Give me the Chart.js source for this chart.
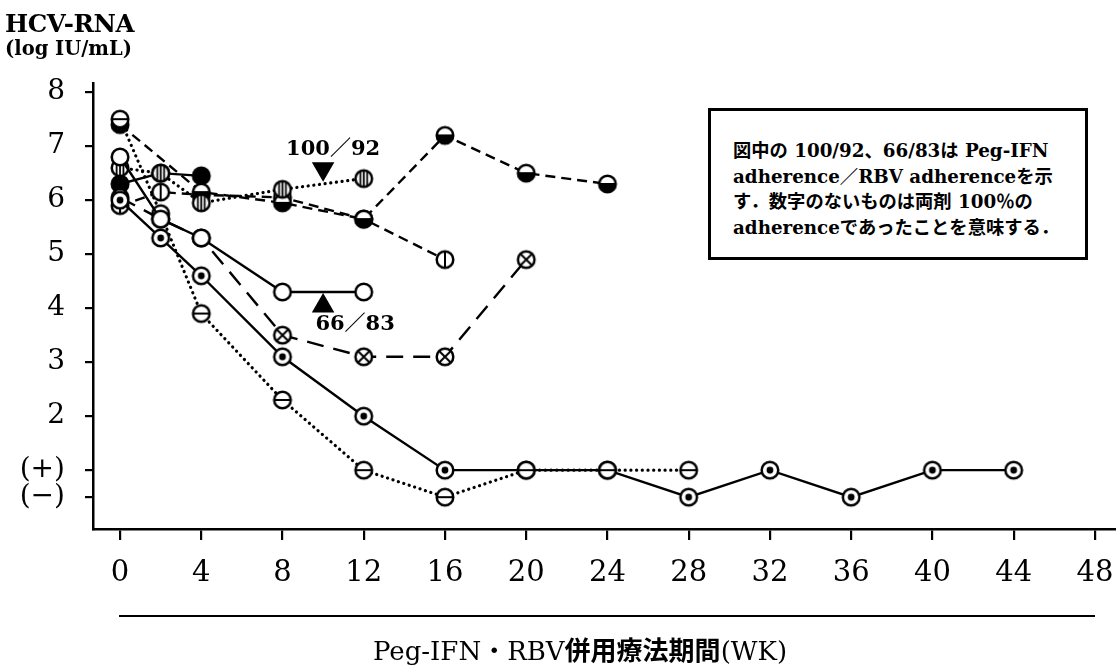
<!DOCTYPE html>
<html><head><meta charset="utf-8">
<script src="https://cdn.jsdelivr.net/npm/chart.js@4/dist/chart.umd.min.js"></script>
<style>
html,body{margin:0;padding:0;background:#fff;}
#wrap{position:relative;width:1116px;height:667px;overflow:hidden;}
#c{position:absolute;left:0;top:0;}
.serif{font-family:"DejaVu Serif","Noto Sans CJK JP",serif;color:#000;}
#ytitle{position:absolute;left:5px;top:10px;font-weight:bold;}
#ytitle .t1{font-size:24.5px;line-height:28px;letter-spacing:-0.4px;}
#ytitle .t2{font-size:19.5px;line-height:22px;}
#note{position:absolute;left:708px;top:108px;width:380px;height:152px;box-sizing:border-box;border:3px solid #000;background:#fff;
 padding:27px 0 0 22px;font-size:18.3px;font-weight:bold;line-height:25.7px;white-space:nowrap;}
#rule{position:absolute;left:119px;top:615px;width:976px;height:2px;background:#000;}
#xtitle{position:absolute;left:0;width:1160px;top:632px;text-align:center;font-size:26px;line-height:34px;white-space:nowrap;}
#xtitle b{font-family:"Noto Sans CJK JP",sans-serif;font-weight:bold;}
</style>
</head><body><div id="wrap">
<canvas id="c" width="1116" height="667"></canvas>
<div id="ytitle" class="serif"><div class="t1">HCV-RNA</div><div class="t2">(log IU/mL)</div></div>
<div id="note" class="serif">図中の 100/92、66/83は Peg-IFN<br>adherence／RBV adherenceを示<br>す．数字のないものは両剤 100％の<br>adherenceであったことを意味する．</div>
<div id="rule"></div>
<div id="xtitle" class="serif">Peg-IFN・RBV<b>併用療法期間</b>(WK)</div>
</div>
<script>
// ---- data ----
const xTickValues = [0,4,8,12,16,20,24,28,32,36,40,44,48];
const yTickValues = [0.5,1,2,3,4,5,6,7,8];
const yTickLabels = ['(−)','(+)','2','3','4','5','6','7','8'];

const wkOpen = [0,2,4,8,12];
const valOpen = [6.8,5.65,5.3,4.3,4.3];
const wkDot = [0,2,4,8,12,16,20,24,28,32,36,40,44];
const valDot = [6.0,5.3,4.6,3.1,2.0,1,1,1,0.5,1,0.5,1,1];
const wkBar = [0,2,4,8,12,16,20,24,28];
const valBar = [7.5,5.75,3.9,2.3,1,0.5,1,1,1];
const wkCross = [0,2,4,8,12,16,20];
const valCross = [6.05,5.65,5.3,3.5,3.1,3.1,4.9];
const wkHalf = [0,4,8,12,16,20,24];
const valHalf = [7.4,6.15,5.95,5.65,7.2,6.5,6.3];
const wkVbar = [0,2,4,8,12,16];
const valVbar = [5.9,6.15,6.1,6.05,5.65,4.9];
const wkStripe = [0,2,4,8,12];
const valStripe = [6.6,6.5,5.95,6.2,6.4];
const wkFilled = [0,2,4];
const valFilled = [6.3,6.5,6.45];

const annWeeks = [10,10];
const annValues = [6.58,4.04];
const annTexts = ['100／92','66／83'];

// ---- markers ----
function makeMarker(kind){
  const s=22, c=document.createElement('canvas'); c.width=s; c.height=s;
  const g=c.getContext('2d'); const r=8.3, cx=11, cy=11;
  g.fillStyle = kind==='filled' ? '#000' : '#fff';
  g.beginPath(); g.arc(cx,cy,r,0,Math.PI*2); g.fill();
  g.strokeStyle='#000'; g.fillStyle='#000'; g.lineWidth=2.5;
  if(kind==='half'){ g.beginPath(); g.arc(cx,cy,r,0,Math.PI); g.closePath(); g.fill(); }
  g.beginPath(); g.arc(cx,cy,r,0,Math.PI*2); g.stroke();
  g.lineWidth=2;
  if(kind==='dot'){ g.beginPath(); g.arc(cx,cy,3.4,0,Math.PI*2); g.fill(); }
  if(kind==='bar'||kind==='half'){ g.beginPath(); g.moveTo(cx-r,cy); g.lineTo(cx+r,cy); g.stroke(); }
  if(kind==='vbar'){ g.beginPath(); g.moveTo(cx,cy-r); g.lineTo(cx,cy+r); g.stroke(); }
  if(kind==='stripe'){ g.lineWidth=1.8; [-3.4,0,3.4].forEach(d=>{ const h=Math.sqrt(r*r-d*d); g.beginPath(); g.moveTo(cx+d,cy-h); g.lineTo(cx+d,cy+h); g.stroke(); }); }
  if(kind==='cross'){ const d=r*0.7; g.beginPath(); g.moveTo(cx-d,cy-d); g.lineTo(cx+d,cy+d); g.moveTo(cx+d,cy-d); g.lineTo(cx-d,cy+d); g.stroke(); }
  return c;
}
const pts = (w,v)=>w.map((x,i)=>({x:x,y:v[i]}));
const DOT=[0.1,5.6], DASH=[10,6], LONG=[17,10];
function ds(w,v,kind,dash,order,width){
  return {data:pts(w,v), showLine:true, borderColor:'#000', borderWidth:width||2.4,
    borderDash:dash||[], borderCapStyle: dash===DOT?'round':'butt', pointStyle:makeMarker(kind),
    pointRadius:9, pointHoverRadius:9, order:order, tension:0, clip:false};
}
const datasets = [
  ds(wkOpen,valOpen,'open',null,1),
  ds(wkBar,valBar,'bar',DOT,2,3.2),
  ds(wkDot,valDot,'dot',null,3),
  ds(wkCross,valCross,'cross',LONG,4),
  ds(wkStripe,valStripe,'stripe',DOT,5,3.2),
  ds(wkHalf,valHalf,'half',DASH,6),
  ds(wkVbar,valVbar,'vbar',DASH,7),
  ds(wkFilled,valFilled,'filled',null,8),
  {data:pts(annWeeks,annValues), showLine:false, pointStyle:'triangle', rotation:[180,0],
   pointRadius:13, backgroundColor:'#000', borderColor:'#000', borderWidth:0, order:0, clip:false}
];
const annOffsets = [[10,-19],[32,19]];
const annotate = {id:'annot', afterDatasetsDraw(chart){
  const ctx=chart.ctx, meta=chart.getDatasetMeta(datasets.length-1);
  ctx.save(); ctx.fillStyle='#000'; ctx.font='bold 21px "DejaVu Serif","Noto Sans CJK JP"';
  ctx.textAlign='center'; ctx.textBaseline='middle';
  meta.data.forEach((p,i)=>ctx.fillText(annTexts[i], p.x+annOffsets[i][0], p.y+annOffsets[i][1]));
  ctx.restore();
}};
function noPad(s){ s.paddingLeft=0; s.paddingRight=0; s.paddingTop=0; s.paddingBottom=0; }
new Chart(document.getElementById('c'), {
  type:'scatter',
  data:{datasets},
  plugins:[annotate],
  options:{
    responsive:false, animation:false, devicePixelRatio:1,
    layout:{padding:{top:83,left:0,right:0,bottom:0}, autoPadding:false},
    plugins:{legend:{display:false}, tooltip:{enabled:false}},
    scales:{
      x:{type:'linear', min:-1.33, max:49.04,
        afterBuildTicks:s=>{s.ticks=xTickValues.map(v=>({value:v}));},
        afterFit:s=>{s.height=138; noPad(s);},
        ticks:{font:{family:'"DejaVu Serif"', size:29}, color:'#000', padding:16, maxRotation:0, autoSkip:false, callback:v=>String(v)},
        grid:{drawOnChartArea:false, tickLength:11, color:'#000', lineWidth:2.2},
        border:{color:'#000', width:2.5}},
      y:{type:'linear', min:-0.09, max:8.17,
        afterBuildTicks:s=>{s.ticks=yTickValues.map(v=>({value:v}));},
        afterFit:s=>{s.width=93; noPad(s);},
        ticks:{font:{family:'"DejaVu Serif"', size:28}, color:'#000', padding:20, autoSkip:false, callback:(v,i)=>yTickLabels[i]},
        grid:{drawOnChartArea:false, tickLength:8, color:'#000', lineWidth:2.2},
        border:{color:'#000', width:2.5}}
    }
  }
});
</script>
</body></html>
